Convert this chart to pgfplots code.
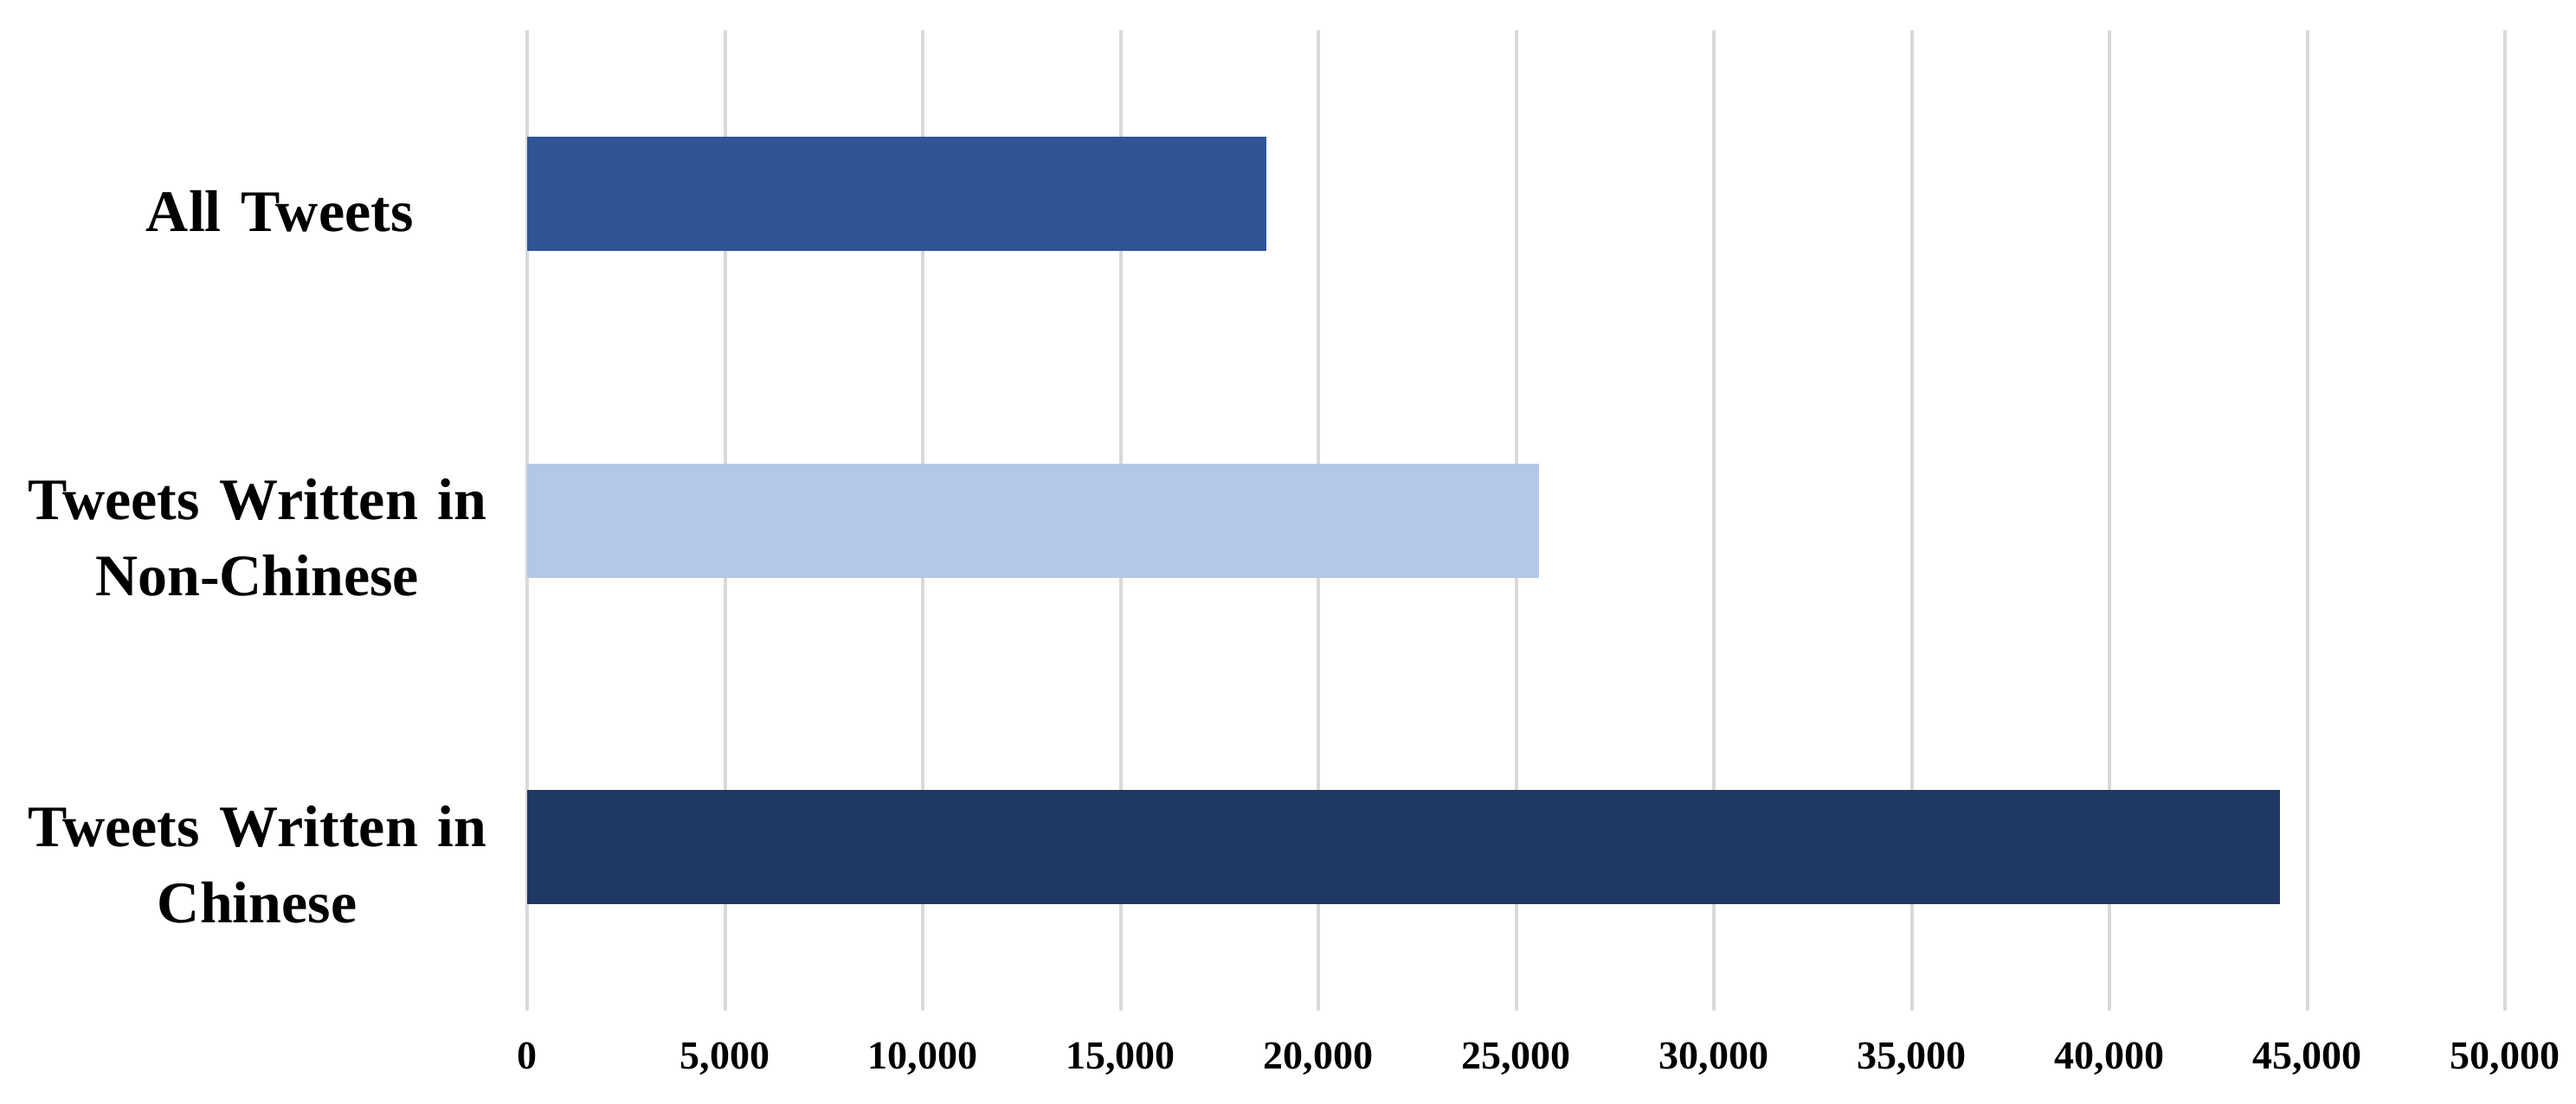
\documentclass[border=0pt]{standalone}
\usepackage{fontspec}
\setmainfont{Liberation Serif}
\usepackage{pgfplots}
\pgfplotsset{compat=1.18}
\definecolor{cAll}{HTML}{2F5597}
\definecolor{cNon}{HTML}{B4C7E7}
\definecolor{cChi}{HTML}{203864}
\definecolor{gridc}{HTML}{D9D9D9}
\begin{document}
\begin{tikzpicture}
\begin{axis}[
  name=ax,
  scale only axis,
  width=571.25pt, height=283.25pt,
  xmin=0, xmax=50000,
  ymin=-0.5, ymax=2.5,
  xbar, bar width=33pt, bar shift=0pt,
  axis line style={draw=none},
  major tick length=0pt,
  xtick={0,5000,...,50000},
  xmajorgrids,
  grid style={gridc, line width=1pt},
  scaled x ticks=false,
  /pgf/number format/.cd, fixed, 1000 sep={,}, assume math mode=true,
  /pgfplots/.cd,
  xticklabel style={font=\bfseries\fontsize{11.5}{11.5}\selectfont, inner sep=0pt, anchor=north, yshift=-9pt},
  ytick={0,1,2},
  yticklabels={Tweets Written in\\Chinese, Tweets Written in\\Non-Chinese, \hspace*{13pt}All Tweets},
  yticklabel style={font=\bfseries\fontsize{17}{22}\selectfont, align=center, text width=135pt, inner sep=0pt, anchor=east, xshift=-10.25pt, yshift=-5pt},
]
\addplot[fill=cChi, draw=none] coordinates {(44300,0)};
\addplot[fill=cNon, draw=none] coordinates {(25580,1)};
\addplot[fill=cAll, draw=none] coordinates {(18690,2)};
\end{axis}
\pgfresetboundingbox
\path[use as bounding box] ([xshift=-152.25pt,yshift=-26.75pt]ax.south west) rectangle ([xshift=20.5pt,yshift=8.75pt]ax.north east);
\end{tikzpicture}
\end{document}
